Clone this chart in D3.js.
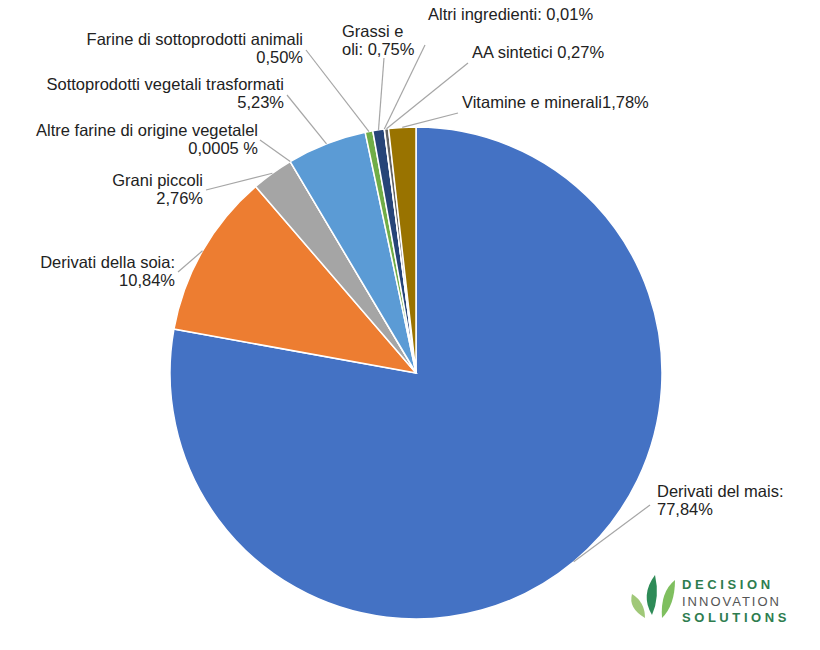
<!DOCTYPE html>
<html><head><meta charset="utf-8">
<script src="https://cdn.jsdelivr.net/npm/d3@7"></script>
<style>body{margin:0;background:#fff}text{font-family:"Liberation Sans",Arial,sans-serif}</style>
</head><body><svg id="c" width="820" height="650"></svg>
<script>
const categories=["Derivati del mais","Derivati della soia","Grani piccoli","Altre farine di origine vegetalel","Sottoprodotti vegetali trasformati","Farine di sottoprodotti animali","Grassi e oli","Altri ingredienti","AA sintetici","Vitamine e minerali"];
const values=[77.84,10.84,2.76,0.0005,5.23,0.50,0.75,0.01,0.27,1.78];
const labelLines=[["Derivati del mais:","77,84%"],["Derivati della soia:","10,84%"],["Grani piccoli","2,76%"],["Altre farine di origine vegetalel","0,0005 %"],["Sottoprodotti vegetali trasformati","5,23%"],["Farine di sottoprodotti animali","0,50%"],["Grassi e","oli: 0,75%"],["Altri ingredienti: 0,01%"],["AA sintetici 0,27%"],["Vitamine e minerali1,78%"]];
const colors=["#4472C4","#ED7D31","#A5A5A5","#FFC000","#5B9BD5","#70AD47","#264478","#9E480E","#636363","#997300"];
const layout=[[657,497,"start",650,505],[175,268,"end",178,272],[203,186,"end",206,190],[258,136,"end",260,140],[284,90,"end",287,95],[303,45,"end",306,50],[342,37,"start",384,58],[428,20,"start",425,45],[472,58,"start",468,63],[462,108,"start",458,113]];
const svg=d3.select("#c"),cx=416,cy=373,r=246;
const g=svg.append("g").attr("transform",`translate(${cx},${cy})`);
const pie=d3.pie().sort(null).value(d=>d)(values);
const arc=d3.arc().innerRadius(0).outerRadius(r);
g.selectAll("path").data(pie).join("path").attr("d",arc).attr("fill",(d,i)=>colors[i]).attr("stroke","#fff").attr("stroke-width",1.5);
const outer=d3.arc().innerRadius(r).outerRadius(r);
pie.forEach((d,i)=>{
  const p=outer.centroid(d);const L=layout[i];
  g.append("line").attr("x1",p[0]).attr("y1",p[1]).attr("x2",L[3]-cx).attr("y2",L[4]-cy).attr("stroke","#A6A6A6").attr("stroke-width",1.2);
  const t=svg.append("text").attr("x",L[0]).attr("y",L[1]).attr("text-anchor",L[2]).attr("font-size",16.5).attr("fill","#222");
  labelLines[i].forEach((s,j)=>t.append("tspan").attr("x",L[0]).attr("dy",j?17.5:0).text(s));
});
const lg=svg.append("g");
[["M652,615 Q640,595 655,575 Q660,597 652,615","#2e8b57"],["M662,618 Q660,592 675,580 Q675,605 662,618","#7fbf5f"],["M645,618 Q628,608 632,594 Q645,602 645,618","#a0c878"]].forEach(p=>lg.append("path").attr("d",p[0]).attr("fill",p[1]));
[["D E C I S I O N",589,"#2e7d4f"],["INNOVATION",606,"#555"],["S O L U T I O N S",622,"#2e7d4f"]].forEach(s=>lg.append("text").attr("x",682).attr("y",s[1]).attr("font-size",13).attr("font-weight",s[2]=="#555"?"normal":"bold").attr("letter-spacing",s[2]=="#555"?2:0).attr("fill",s[2]).text(s[0]));
</script></body></html>
